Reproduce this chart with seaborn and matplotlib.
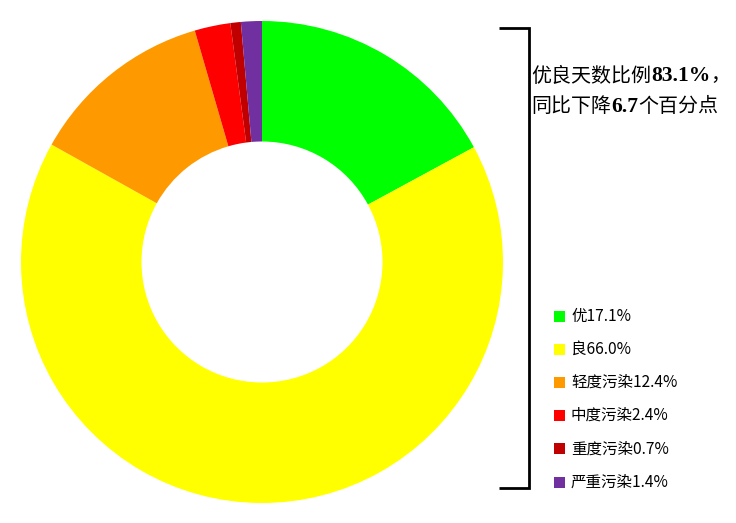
import matplotlib
matplotlib.use('Agg')
import matplotlib.pyplot as plt
import seaborn as sns
from matplotlib.patches import Rectangle

sns.set_theme(style='white')
plt.rcParams['font.family'] = ['Noto Sans CJK SC', 'DejaVu Sans']

categories = ['优', '良', '轻度污染', '中度污染', '重度污染', '严重污染']
shares = [17.1, 66.0, 12.4, 2.4, 0.7, 1.4]
colors = ['#00FF00', '#FFFF00', '#FF9900', '#FF0000', '#C00000', '#7030A0']
good_ratio = 83.1
drop = 6.7

W, H = 736, 523
fig = plt.figure(figsize=(W / 100, H / 100), dpi=100)
fig.patch.set_facecolor('white')

# donut
ax = fig.add_axes([21 / W, (H - 503) / H, 482 / W, 482 / H])
ax.pie(shares, colors=colors, startangle=90, counterclock=False,
       radius=1, wedgeprops=dict(width=0.5, linewidth=0))
ax.set_xlim(-1, 1)
ax.set_ylim(-1, 1)
ax.set_aspect('equal')
ax.axis('off')

# overlay in pixel coords
ov = fig.add_axes([0, 0, 1, 1])
ov.set_xlim(0, W)
ov.set_ylim(H, 0)
ov.axis('off')

# bracket
ov.plot([499, 529, 529, 499], [28, 28, 488, 488], color='black', lw=2,
        solid_joinstyle='miter', solid_capstyle='butt')

# headline with bold numbers
def chain(parts, x, y):
    prev = None
    for s, bold in parts:
        kw = dict(fontsize=14.4, color='black', va='center', ha='left')
        if bold:
            kw.update(family=['Liberation Serif', 'Noto Sans CJK SC'], fontweight='bold', fontsize=15.5)
        if prev is None:
            prev = ov.text(x, y, s, **kw)
        else:
            prev = ov.annotate(s, xy=(1, 0.5), xycoords=prev, **kw)

chain([('优良天数比例', False), (f'{good_ratio}%', True), ('，', False)], 531, 76)
chain([('同比下降', False), (f'{drop}', True), ('个百分点', False)], 531, 107)

# legend
y0, dy = 316, 33.2
for i, (cat, v, c) in enumerate(zip(categories, shares, colors)):
    y = y0 + i * dy
    ov.add_patch(Rectangle((554, y - 5.5), 11, 11, facecolor=c, edgecolor='none'))
    ov.text(571, y, f'{cat}{v}%', fontsize=11.2, va='center', ha='left', color='black')

fig.savefig('out.png', dpi=100)
